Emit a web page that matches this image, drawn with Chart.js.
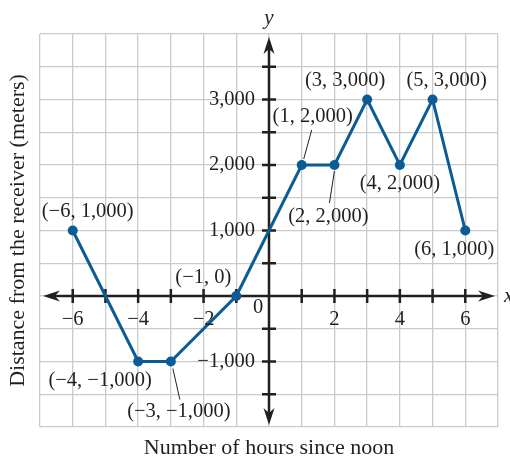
<!DOCTYPE html>
<html>
<head>
<meta charset="utf-8">
<script src="https://cdn.jsdelivr.net/npm/chart.js@4.4.1/dist/chart.umd.min.js"></script>
<style>
  html, body { margin: 0; padding: 0; background: #fff; }
  canvas { display: block; }
</style>
</head>
<body>
<canvas id="distanceChart" width="510" height="458"></canvas>
<script>
'use strict';

// data
const HOURS = [-6, -4, -3, -1, 1, 2, 3, 4, 5, 6];
const DISTANCE = [1000, -1000, -1000, 0, 2000, 2000, 3000, 2000, 3000, 1000];

const X_TICK_LABELS = [-6, -4, -2, 2, 4, 6];
const Y_TICK_LABELS = [-1000, 1000, 2000, 3000];

const X_TITLE = 'Number of hours since noon';
const Y_TITLE = 'Distance from the receiver (meters)';

// label placement relative to each point: [dx, dy, leader line or null]
const LABEL_POS = [
  [15, -19, null],
  [-38, 19, null],
  [8, 50, [2, 7, 9, 38]],
  [-33, -18, null],
  [11, -48, [2, -6, 10, -35]],
  [-6, 52, [0, 6, -5, 38]],
  [-22, -19, null],
  [0, 19, null],
  [14, -19, null],
  [-11, 19, null],
];

const COLORS = {
  line: '#0b5b94',
  axis: '#231f20',
  grid: '#c9cacd',
  text: '#231f20',
};

const FONT = "'Liberation Serif', 'DejaVu Serif', serif";

const fmt = (v) => v.toLocaleString('en-US').replace('-', '\u2212');

const coordAxesPlugin = {
  id: 'coordAxes',
  beforeDatasetsDraw(chart) {
    const { ctx, scales: { x, y } } = chart;
    const x0 = x.getPixelForValue(0);
    const y0 = y.getPixelForValue(0);
    const left = x.left + 3, right = x.right - 3;
    const top = y.top + 3, bottom = y.bottom - 2;
    ctx.save();
    ctx.strokeStyle = COLORS.axis;
    ctx.fillStyle = COLORS.axis;
    ctx.lineWidth = 2.5;

    ctx.beginPath();
    ctx.moveTo(left + 10, y0); ctx.lineTo(right - 10, y0);
    ctx.moveTo(x0, top + 10); ctx.lineTo(x0, bottom - 10);
    // ticks
    for (let v = -6; v <= 6; v++) {
      if (v === 0) continue;
      const px = x.getPixelForValue(v);
      ctx.moveTo(px, y0 - 7); ctx.lineTo(px, y0 + 7);
    }
    for (let v = -1500; v <= 3500; v += 500) {
      if (v === 0) continue;
      const py = y.getPixelForValue(v);
      ctx.moveTo(x0 - 7, py); ctx.lineTo(x0 + 7, py);
    }
    ctx.stroke();

    // arrow heads
    const arrow = (tx, ty, dx, dy) => {
      const len = 17, w = 5.5;
      ctx.beginPath();
      ctx.moveTo(tx, ty);
      ctx.lineTo(tx - dx * len - dy * w, ty - dy * len - dx * w);
      ctx.lineTo(tx - dx * len * 0.7, ty - dy * len * 0.7);
      ctx.lineTo(tx - dx * len + dy * w, ty - dy * len + dx * w);
      ctx.closePath();
      ctx.fill();
    };
    arrow(right, y0, 1, 0);
    arrow(left, y0, -1, 0);
    arrow(x0, top, 0, -1);
    arrow(x0, bottom, 0, 1);
    ctx.restore();
  },
  afterDraw(chart) {
    const { ctx, scales: { x, y } } = chart;
    const x0 = x.getPixelForValue(0);
    const y0 = y.getPixelForValue(0);
    ctx.save();
    ctx.fillStyle = COLORS.text;
    ctx.strokeStyle = COLORS.text;
    ctx.font = `20.5px ${FONT}`;
    ctx.textBaseline = 'middle';

    ctx.textAlign = 'center';
    X_TICK_LABELS.forEach((v) => {
      ctx.fillText(fmt(v), x.getPixelForValue(v), y0 + 24);
    });
    ctx.fillText('0', x0 - 11, y0 + 12);

    ctx.textAlign = 'right';
    Y_TICK_LABELS.forEach((v) => {
      ctx.fillText(fmt(v), x0 - 14, y.getPixelForValue(v));
    });

    // point labels
    ctx.textAlign = 'center';
    ctx.lineWidth = 1;
    HOURS.forEach((h, i) => {
      const px = x.getPixelForValue(h);
      const py = y.getPixelForValue(DISTANCE[i]);
      const [dx, dy, leader] = LABEL_POS[i];
      ctx.fillText(`(${fmt(h)}, ${fmt(DISTANCE[i])})`, px + dx, py + dy);
      if (leader) {
        ctx.beginPath();
        ctx.moveTo(px + leader[0], py + leader[1]);
        ctx.lineTo(px + leader[2], py + leader[3]);
        ctx.stroke();
      }
    });

    // axis names
    ctx.font = `italic 21px ${FONT}`;
    ctx.textAlign = 'center';
    ctx.fillText('y', x0, y.top - 16);
    ctx.textAlign = 'left';
    ctx.fillText('x', x.right + 6, y0);

    ctx.font = `22px ${FONT}`;
    ctx.textAlign = 'center';
    ctx.fillText(X_TITLE, (x.left + x.right) / 2, chart.height - 10);
    ctx.translate(18, (y.top + y.bottom) / 2);
    ctx.rotate(-Math.PI / 2);
    ctx.fillText(Y_TITLE, 0, 0);
    ctx.restore();
  }
};

function initDistanceChart() {
  const canvas = document.getElementById('distanceChart');
  new Chart(canvas.getContext('2d'), {
    type: 'line',
    data: {
      datasets: [{
        data: HOURS.map((h, i) => ({ x: h, y: DISTANCE[i] })),
        borderColor: COLORS.line,
        borderWidth: 3,
        pointRadius: 5,
        pointBorderWidth: 0,
        pointBackgroundColor: COLORS.line,
        tension: 0,
      }]
    },
    options: {
      responsive: false,
      animation: false,
      layout: { padding: { left: 40, top: 34, right: 12, bottom: 31 } },
      plugins: { legend: { display: false }, tooltip: { enabled: false } },
      scales: {
        x: {
          type: 'linear', min: -7, max: 7,
          ticks: { display: false, stepSize: 1 },
          grid: { color: COLORS.grid, lineWidth: 1.3, drawTicks: false },
          border: { display: false },
        },
        y: {
          type: 'linear', min: -2000, max: 4000,
          ticks: { display: false, stepSize: 500 },
          grid: { color: COLORS.grid, lineWidth: 1.3, drawTicks: false },
          border: { display: false },
        }
      }
    },
    plugins: [coordAxesPlugin]
  });
}

document.addEventListener('DOMContentLoaded', initDistanceChart);
</script>
</body>
</html>
